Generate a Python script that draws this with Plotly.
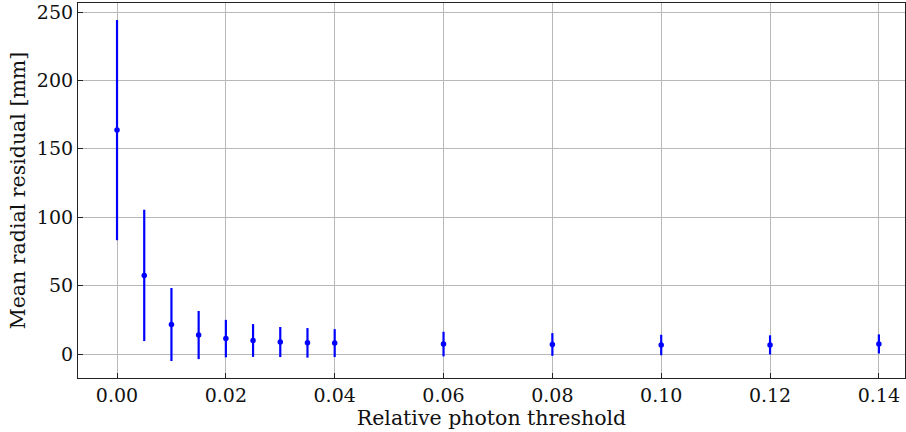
import plotly.graph_objects as go

thresholds = [0.0, 0.005, 0.01, 0.015, 0.02, 0.025, 0.03, 0.035, 0.04, 0.06, 0.08, 0.10, 0.12, 0.14]
mean_residual = [163.7, 57.5, 21.6, 13.9, 11.3, 9.9, 8.8, 8.2, 8.0, 7.3, 7.0, 6.6, 6.7, 7.4]
residual_err = [80.5, 48.0, 26.7, 17.6, 13.7, 12.0, 11.0, 10.8, 10.2, 9.0, 8.3, 7.5, 7.0, 7.0]

x_ticks = [0.0, 0.02, 0.04, 0.06, 0.08, 0.10, 0.12, 0.14]
x_tick_labels = ["0.00", "0.02", "0.04", "0.06", "0.08", "0.10", "0.12", "0.14"]
y_ticks = [0, 50, 100, 150, 200, 250]

font_family = "DejaVu Serif, Liberation Serif, serif"

fig = go.Figure()
fig.add_trace(go.Scatter(
    x=thresholds, y=mean_residual, mode="markers",
    marker=dict(color="#0000ff", size=5.5),
    error_y=dict(type="data", array=residual_err, visible=True,
                 color="#0000ff", thickness=2.2, width=0),
    showlegend=False,
))

axis_common = dict(
    showline=True, linecolor="#222222", linewidth=1.2, mirror=True,
    ticks="inside", ticklen=5, tickcolor="#222222", tickwidth=1,
    showgrid=True, gridcolor="#b8b8b8", gridwidth=1,
    zeroline=False,
    tickfont=dict(family=font_family, size=19, color="#111111"),
)

fig.update_layout(
    width=906, height=432,
    margin=dict(l=78, r=1, t=3, b=54),
    paper_bgcolor="white", plot_bgcolor="white",
    font=dict(family=font_family, size=19, color="#111111"),
    xaxis=dict(range=[-0.00717, 0.1448], tickvals=x_ticks, ticktext=x_tick_labels,
               title=dict(text="Relative photon threshold", standoff=2,
                          font=dict(family=font_family, size=20.5)),
               **axis_common),
    yaxis=dict(range=[-17.5, 256.6], tickvals=y_ticks,
               title=dict(text="Mean radial residual [mm]", standoff=5,
                          font=dict(family=font_family, size=20.5)),
               **axis_common),
)

fig.write_html("out.html")
